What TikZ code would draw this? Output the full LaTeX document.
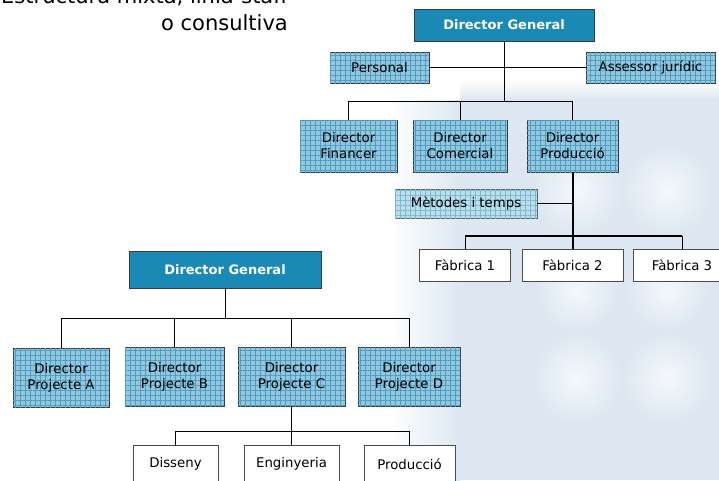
\documentclass[tikz,border=0pt]{standalone}
\usepackage{fontspec}
\setmainfont{DejaVu Sans}
\usetikzlibrary{patterns.meta}
\definecolor{dgblue}{HTML}{1A89B5}
\definecolor{patbase}{HTML}{92C7DD}
\definecolor{patline}{HTML}{4E9CC2}
\definecolor{patbaseL}{HTML}{BCDEEB}
\definecolor{patlineL}{HTML}{7DB8D3}
\definecolor{bgtint}{HTML}{DCE7F1}
\definecolor{boxedge}{HTML}{3A3A3A}
\tikzset{
  x=1pt, y=-1pt,
  txt/.style={font=\fontsize{13.3}{16}\selectfont, align=center, inner sep=0pt},
  dgbox/.style={draw=boxedge, line width=0.9pt, fill=dgblue, text=white,
    font=\fontsize{13}{15}\selectfont\bfseries, inner sep=0pt},
  patbox/.style={txt, draw=boxedge, line width=0.9pt, fill=patbase,
    postaction={pattern={Lines[angle=0,distance=5pt,line width=0.5pt]}, pattern color=patline},
    postaction={pattern={Lines[angle=90,distance=5pt,line width=0.5pt]}, pattern color=patline}},
  patboxL/.style={txt, draw=gray!80!black, line width=0.9pt, fill=patbaseL,
    postaction={pattern={Lines[angle=0,distance=5pt,line width=0.4pt]}, pattern color=patlineL},
    postaction={pattern={Lines[angle=90,distance=5pt,line width=0.4pt]}, pattern color=patlineL}},
  plainbox/.style={txt, draw=gray!60!black, line width=0.9pt, fill=white},
  conn/.style={draw=black, line width=0.9pt},
  thick conn/.style={draw=black, line width=2pt},
  blob/.style={inner color=white!70!bgtint, outer color=bgtint},
}
\begin{document}
\begin{tikzpicture}
\useasboundingbox (0,0) rectangle (719,480);
\clip (0,0) rectangle (719,480);
% faint background watermark
\shade[left color=white, right color=bgtint, shading angle=90] (390,100) rectangle (460,480);
\fill[bgtint] (460,100) rectangle (719,480);
\shade[top color=white, bottom color=bgtint] (460,80) rectangle (719,100);
\shade[blob] (577,190) circle (46);
\shade[blob] (667,190) circle (46);
\shade[blob] (577,290) circle (42);
\shade[blob] (667,290) circle (42);
\shade[blob] (577,378) circle (46);
\shade[blob] (667,378) circle (46);

% title
\node[anchor=base east, inner sep=0pt, font=\fontsize{21}{27}\selectfont] (t1) at (288,3) {Estructura mixta, línia-staff};
\node[anchor=base east, inner sep=0pt, font=\fontsize{21}{27}\selectfont] (t2) at (288,30) {o consultiva};

% ---------- top chart ----------
\node[dgbox, minimum width=180, minimum height=32] (dg1) at (504,25) {Director General};
\node[patbox, minimum width=99, minimum height=31] (pers) at (379.5,67.5) {Personal};
\node[patbox, minimum width=129, minimum height=31] (ass) at (650.5,67.5) {Assessor jurídic};
\node[patbox, minimum width=97, minimum height=52] (fin) at (348.5,146) {Director\\Financer};
\node[patbox, minimum width=94, minimum height=52] (com) at (460,146) {Director\\Comercial};
\node[patbox, minimum width=91, minimum height=52] (prod) at (572.5,146) {Director\\Producció};
\node[patboxL, minimum width=142, minimum height=29] (met) at (466,203.5) {Mètodes i temps};
\node[plainbox, minimum width=91, minimum height=32] (f1) at (465,265) {Fàbrica 1};
\node[plainbox, minimum width=101, minimum height=32] (f2) at (572.5,265) {Fàbrica 2};
\node[plainbox, minimum width=98, minimum height=32] (f3) at (682,265) {Fàbrica 3};

\coordinate (bus1) at (0,101);
\coordinate (bus3) at (0,236);
\draw[conn] (dg1.south) -- (dg1.south |- bus1);
\draw[conn] (pers.east) -- (ass.west);
\draw[conn] (fin.north) -- (fin.north |- bus1) -- (prod.north |- bus1) -- (prod.north);
\draw[conn] (com.north) -- (com.north |- bus1);
\draw[thick conn] (prod.south) -- (f2.north);
\draw[conn] (met.east) -- (met.east -| prod.south);
\draw[thick conn] (f1.north |- bus3) -- (f3.north |- bus3);
\draw[conn] (f1.north) -- (f1.north |- bus3);
\draw[conn] (f3.north) -- (f3.north |- bus3);

% ---------- bottom chart ----------
\node[dgbox, minimum width=192, minimum height=37] (dg2) at (225,269.5) {Director General};
\node[patbox, minimum width=96, minimum height=59] (pa) at (61,377.5) {Director\\Projecte A};
\node[patbox, minimum width=99, minimum height=59] (pb) at (174.5,376.5) {Director\\Projecte B};
\node[patbox, minimum width=107, minimum height=59] (pc) at (291.5,376.5) {Director\\Projecte C};
\node[patbox, minimum width=102, minimum height=59] (pd) at (409,376.5) {Director\\Projecte D};
\node[plainbox, minimum width=85, minimum height=38] (dis) at (175.5,464) {Disseny};
\node[plainbox, minimum width=95, minimum height=38] (eng) at (291.5,464) {Enginyeria};
\node[plainbox, minimum width=91, minimum height=38] (pro2) at (409.5,464) {Producció};

\coordinate (bus2) at (0,318);
\coordinate (bus4) at (0,431);
\draw[conn] (dg2.south) -- (dg2.south |- bus2);
\draw[conn] (pa.north) -- (pa.north |- bus2) -- (pd.north |- bus2) -- (pd.north);
\draw[conn] (pb.north) -- (pb.north |- bus2);
\draw[conn] (pc.north) -- (pc.north |- bus2);
\draw[conn] (pc.south) -- (eng.north);
\draw[conn] (dis.north) -- (dis.north |- bus4) -- (pro2.north |- bus4) -- (pro2.north);
\end{tikzpicture}
\end{document}
